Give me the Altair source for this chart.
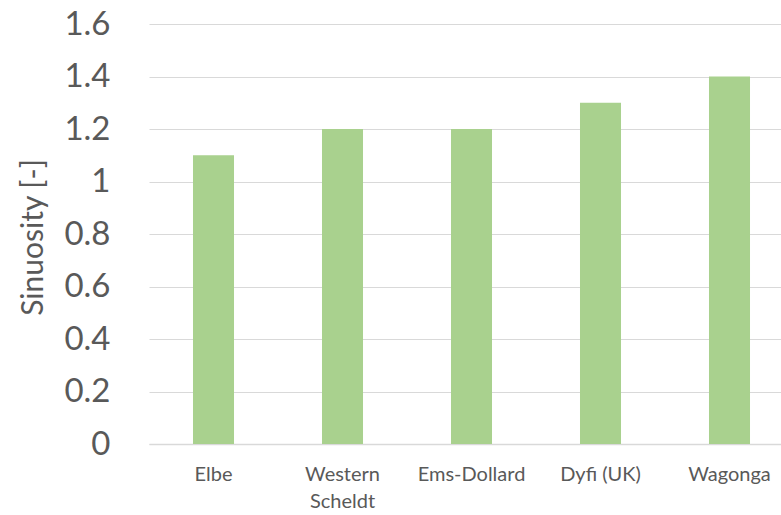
import altair as alt
import pandas as pd

estuaries = ["Elbe", "Western Scheldt", "Ems-Dollard", "Dyfi (UK)", "Wagonga"]
sinuosity = [1.1, 1.2, 1.2, 1.3, 1.4]
y_ticks = [0, 0.2, 0.4, 0.6, 0.8, 1.0, 1.2, 1.4, 1.6]

df = pd.DataFrame({"estuary": estuaries, "sinuosity": sinuosity})

FONT = "Lato"
GREY = "#595959"

chart = alt.Chart(df).mark_bar(color="#A9D18E").encode(
    x=alt.X(
        "estuary:N",
        sort=estuaries,
        title=None,
        scale=alt.Scale(paddingInner=0.682, paddingOuter=0.341, range=[0, 645]),
        axis=alt.Axis(
            labelAngle=0,
            labelFont=FONT,
            labelFontSize=20,
            labelColor=GREY,
            labelPadding=20,
            labelLineHeight=27,
            ticks=False,
            domainColor="#D9D9D9",
            domainWidth=1.5,
            labelExpr="datum.label == 'Western Scheldt' ? ['Western', 'Scheldt'] : datum.label",
        ),
    ),
    y=alt.Y(
        "sinuosity:Q",
        title="Sinuosity [-]",
        scale=alt.Scale(domain=[0, 1.6], nice=False),
        axis=alt.Axis(
            values=y_ticks,
            labelExpr="datum.value == 0 ? '0' : datum.value == 1 ? '1' : format(datum.value, '.1f')",
            labelFont=FONT,
            labelFontSize=33,
            labelColor=GREY,
            labelPadding=39,
            ticks=False,
            domain=False,
            gridColor="#D9D9D9",
            gridWidth=1.2,
            titleFont=FONT,
            titleFontSize=30,
            titleFontWeight="normal",
            titleColor=GREY,
            titleX=-107,
            titleY=213,
            titleAlign="center",
            titleBaseline="alphabetic",
            titleAngle=270,
        ),
    ),
).properties(
    width=632,
    height=420,
    autosize=alt.AutoSizeParams(type="none"),
    padding={"left": 149, "top": 24, "right": 0, "bottom": 71},
).configure_view(stroke=None)

chart.save("out.html", embed_options={"renderer": "svg", "actions": False})
